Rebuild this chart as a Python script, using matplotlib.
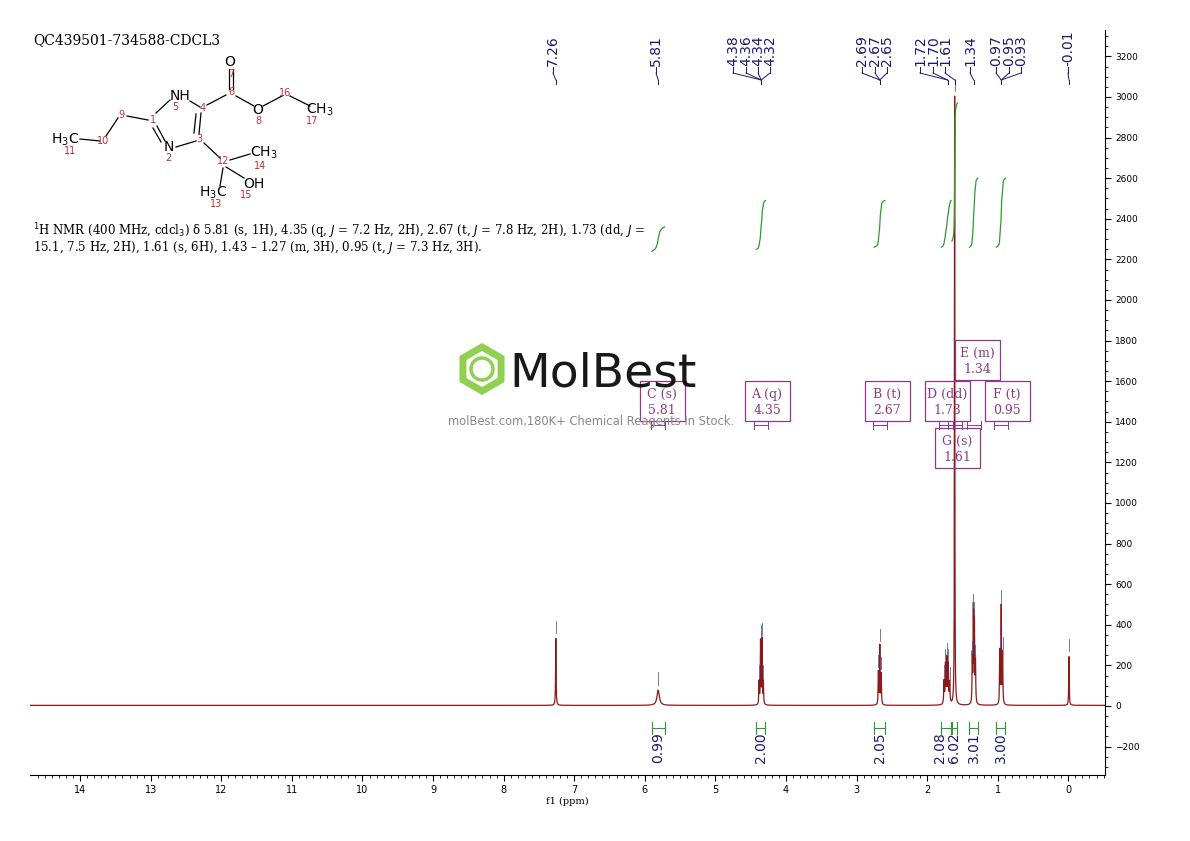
import matplotlib.pyplot as plt
import numpy as np
from matplotlib.patches import Rectangle, RegularPolygon, Circle

# ---- data ----
peak_ppm = [7.26, 5.81, 4.38, 4.36, 4.34, 4.32, 2.69, 2.67, 2.65,
            1.76, 1.74, 1.72, 1.70, 1.68, 1.61,
            1.36, 1.345, 1.33, 1.315, 0.97, 0.95, 0.93, -0.01]
peak_height = [330, 75, 110, 310, 320, 110, 160, 290, 150,
               110, 190, 220, 190, 100, 3000,
               230, 460, 420, 210, 260, 480, 250, 240]
peak_width = [0.004, 0.02, 0.004, 0.004, 0.004, 0.004, 0.004, 0.004, 0.004,
              0.005, 0.005, 0.005, 0.005, 0.005, 0.003,
              0.004, 0.004, 0.004, 0.004, 0.004, 0.004, 0.004, 0.004]

label_text = ["7.26", "5.81", "4.38", "4.36", "4.34", "4.32", "2.69", "2.67", "2.65",
              "1.72", "1.70", "1.61", "1.34", "0.97", "0.95", "0.93", "-0.01"]
label_px = [553, 656, 733, 746, 758, 770, 862, 875, 887,
            920, 933, 945, 970, 996, 1009, 1021, 1068]
label_anchor_ppm = [7.26, 5.81, 4.35, 4.35, 4.35, 4.35, 2.67, 2.67, 2.67,
                    1.71, 1.71, 1.61, 1.34, 0.95, 0.95, 0.95, -0.01]

int_lo = [5.72, 4.29, 2.60, 1.66, 1.57, 1.28, 0.89]
int_hi = [5.90, 4.42, 2.75, 1.80, 1.65, 1.40, 1.02]
int_base = [2240, 2250, 2260, 2260, 2290, 2260, 2260]
int_top = [2360, 2490, 2490, 2490, 2970, 2600, 2600]
int_value = ["0.99", "2.00", "2.05", "2.08", "6.02", "3.01", "3.00"]
int_label_ppm = [5.81, 4.35, 2.67, 1.82, 1.62, 1.34, 0.95]

mult_name = ["C (s)", "A (q)", "B (t)", "D (dd)", "F (t)", "E (m)", "G (s)"]
mult_shift = ["5.81", "4.35", "2.67", "1.73", "0.95", "1.34", "1.61"]
mult_box = [(640, 381), (745, 381), (865, 381), (925, 381), (985, 381), (955, 340), (935, 428)]

W, H = 1190, 841
fig = plt.figure(figsize=(W / 100, H / 100), dpi=100)
ax = fig.add_axes([30 / W, 1 - 775 / H, 1075 / W, 745 / H])

x = np.linspace(-0.52, 14.71, 60000)
y = np.zeros_like(x) + 3
for p, h, w in zip(peak_ppm, peak_height, peak_width):
    y += h * w**2 / ((x - p) ** 2 + w**2)
ax.plot(x, y, color="#8b1a1a", lw=0.9)

# peak-top ticks
for p, h in zip(peak_ppm, peak_height):
    if h > 60:
        ax.plot([p, p], [h + 30, h + 90], color="#6060a0", lw=0.6)

# integral curves
for lo, hi, b, t in zip(int_lo, int_hi, int_base, int_top):
    m = (x >= lo) & (x <= hi)
    xs = x[m][::-1]
    c = np.cumsum(y[m][::-1])
    c = (c - c[0]) / (c[-1] - c[0])
    ax.plot(xs, b + c * (t - b), color="#2e9a2e", lw=0.9)

# integral brackets + values
for lo, hi, v, lp in zip(int_lo, int_hi, int_value, int_label_ppm):
    ax.plot([hi, lo], [-110, -110], color="#2e9a2e", lw=0.8)
    ax.plot([hi, hi], [-80, -140], color="#2e9a2e", lw=0.8)
    ax.plot([lo, lo], [-80, -140], color="#2e9a2e", lw=0.8)
    ax.text(lp, -130, v, rotation=90, ha="center", va="top", fontsize=10, color="#1a1a6e")

ax.set_xlim(14.71, -0.52)
ax.set_ylim(-340, 3330)
ax.set_xticks(range(0, 15))
ax.set_xticks(np.arange(-0.5, 14.7, 0.1), minor=True)
ax.tick_params(axis="x", labelsize=7, length=4)
ax.tick_params(axis="x", which="minor", length=2)
ax.yaxis.tick_right()
ax.set_yticks(range(-200, 3201, 200))
ax.set_yticks(range(-300, 3301, 50), minor=True)
ax.tick_params(axis="y", labelsize=6.5, length=4)
ax.tick_params(axis="y", which="minor", length=2)
for s in ["left", "top"]:
    ax.spines[s].set_visible(False)
ax.set_xlabel("f1 (ppm)", fontsize=7, family="serif", labelpad=1)

# overlay in pixel coordinates
ov = fig.add_axes([0, 0, 1, 1])
ov.set_xlim(0, W)
ov.set_ylim(H, 0)
ov.axis("off")

navy = "#1a1a6e"
def px_of(ppm):
    return 30 + (14.71 - ppm) / (14.71 + 0.52) * 1075

for t, lx, ap in zip(label_text, label_px, label_anchor_ppm):
    ov.text(lx, 66, t, rotation=90, ha="center", va="bottom", fontsize=10, color=navy)
    ov.plot([lx, lx], [67, 73], color=navy, lw=0.7)
    ov.plot([lx, px_of(ap)], [73, 80], color=navy, lw=0.7)
    ov.plot([px_of(ap), px_of(ap)], [80, 84], color=navy, lw=0.7)

# multiplet boxes
purple = "#8b3a8b"
for n, s, (bx, by) in zip(mult_name, mult_shift, mult_box):
    ov.add_patch(Rectangle((bx, by), 45, 40, fill=False, ec=purple, lw=0.9))
    ov.text(bx + 22, by + 13, n, ha="center", va="center", fontsize=9, color=purple, family="serif")
    ov.text(bx + 22, by + 29, s, ha="center", va="center", fontsize=9, color=purple, family="serif")
for c in [5.81, 4.35, 2.67, 1.73, 1.61, 1.34, 0.95]:
    cx = px_of(c)
    ov.plot([cx - 7, cx + 7], [425, 425], color=purple, lw=0.7)
    ov.plot([cx - 7, cx - 7], [421, 429], color=purple, lw=0.7)
    ov.plot([cx + 7, cx + 7], [421, 429], color=purple, lw=0.7)

# watermark
ov.add_patch(RegularPolygon((482, 369), 6, radius=26, orientation=0, fc="#8fd14f", ec="none"))
ov.add_patch(RegularPolygon((482, 369), 6, radius=18, orientation=0, fc="white", ec="none"))
ov.add_patch(Circle((482, 369), 11, fc="none", ec="#8fd14f", lw=2.5))
ov.text(509, 374, "MolBest", fontsize=34, va="center", ha="left", color="black", alpha=0.9,
        family=["Liberation Sans Narrow", "DejaVu Sans"])
ov.text(448, 421, "molBest.com,180K+ Chemical Reagents In Stock.", fontsize=8.3,
        va="center", ha="left", color="#888888")

# title and description
ov.text(33, 40, "QC439501-734588-CDCL3", fontsize=10, family="serif", va="center")
ov.text(33, 231, r"$^1$H NMR (400 MHz, cdcl$_3$) δ 5.81 (s, 1H), 4.35 (q, $J$ = 7.2 Hz, 2H), 2.67 (t, $J$ = 7.8 Hz, 2H), 1.73 (dd, $J$ =",
        fontsize=8.5, family="serif", va="center")
ov.text(33, 247, r"15.1, 7.5 Hz, 2H), 1.61 (s, 6H), 1.43 – 1.27 (m, 3H), 0.95 (t, $J$ = 7.3 Hz, 3H).",
        fontsize=8.5, family="serif", va="center")

# structure
bonds = [((80, 139), (100, 141)), ((106, 136), (118, 118)), ((127, 116), (148, 120)),
         ((156, 113), (170, 100)), ((190, 101), (200, 107)),
         ((201, 113), (199, 134)), ((196, 114), (194, 133)),
         ((157, 126), (165, 141)), ((153, 128), (161, 142)),
         ((176, 147), (196, 141)), ((207, 105), (226, 95)),
         ((229, 89), (229, 69)), ((233, 89), (233, 69)),
         ((236, 96), (254, 106)), ((263, 106), (282, 96)), ((290, 96), (310, 106)),
         ((204, 143), (220, 158)), ((230, 160), (250, 154)),
         ((226, 167), (244, 178)), ((223, 168), (220, 186))]
for (x0, y0), (x1, y1) in bonds:
    ov.plot([x0, x1], [y0, y1], color="black", lw=0.9)
atoms = [(180, 96, "NH"), (169, 147, "N"), (230, 62, "O"), (258, 110, "O"),
         (320, 110, r"CH$_3$"), (65, 140, r"H$_3$C"), (264, 153, r"CH$_3$"),
         (254, 184, "OH"), (213, 193, r"H$_3$C")]
for ax_, ay, t in atoms:
    ov.text(ax_, ay, t, fontsize=10, ha="center", va="center")
nums = [(153, 120, "1"), (168, 158, "2"), (199, 139, "3"), (203, 108, "4"), (175, 107, "5"),
        (231, 92, "6"), (231, 74, "7"), (258, 121, "8"), (121, 115, "9"), (103, 141, "10"),
        (70, 151, "11"), (223, 161, "12"), (216, 204, "13"), (260, 166, "14"), (246, 195, "15"),
        (285, 93, "16"), (312, 121, "17")]
for nx, ny, t in nums:
    ov.text(nx, ny, t, fontsize=7, ha="center", va="center", color="#c03030")

fig.savefig("out.png", dpi=100)
